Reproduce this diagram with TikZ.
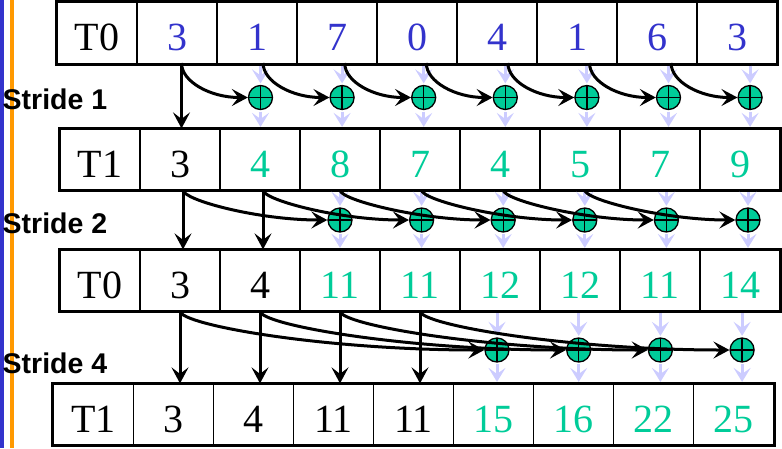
\documentclass[tikz,border=0pt]{standalone}
\usepackage{fontspec}
\setmainfont{Liberation Serif}
\newfontfamily\stridefont{Liberation Sans}
\usetikzlibrary{fit,calc,positioning,arrows.meta}
\definecolor{numblue}{HTML}{3333CC}
\definecolor{numgreen}{HTML}{00CC99}
\definecolor{lav}{HTML}{CCCCFF}
\definecolor{barorange}{HTML}{FF9900}
\tikzset{
cell/.style={draw, line width=1.2pt, minimum width=80pt, minimum height=61pt, inner sep=0pt,
  text height=35pt, text depth=0pt, font=\fontsize{40}{40}\selectfont}, % one array element
rowframe/.style={draw, line width=3pt, inner sep=0pt},
oldval/.style={text=numblue},
newval/.style={text=numgreen},
addop/.style={circle, draw, line width=1.3pt, fill=numgreen, minimum size=24pt, inner sep=0pt,
  path picture={\draw[line width=1.3pt] (path picture bounding box.north) -- (path picture bounding box.south)
    (path picture bounding box.west) -- (path picture bounding box.east);}},
stridelbl/.style={anchor=west, inner sep=0pt, font=\stridefont\bfseries\fontsize{28.5}{28.5}\selectfont},
sumarrow/.style={line width=3pt, -{Stealth[length=16pt,width=17pt,inset=6.5pt]}},
lavarrow/.style={color=lav, line width=3pt, shorten <=1.5pt, shorten >=1.5pt,
  -{Stealth[length=14pt,width=17pt,inset=6pt]}},
}
\begin{document}
\begin{tikzpicture}[x=1pt,y=1pt,node distance=80pt,on grid]
\useasboundingbox (0,0) rectangle (782,-448);
\fill[numblue] (0,0) rectangle (3.5,-448);
\fill[barorange] (9.5,0) rectangle (14,-448);
% input T0
\node[cell] (a0) at (97,-33) {T0};
\node[cell,oldval] (a1) [right=of a0] {3};
\node[cell,oldval] (a2) [right=of a1] {1};
\node[cell,oldval] (a3) [right=of a2] {7};
\node[cell,oldval] (a4) [right=of a3] {0};
\node[cell,oldval] (a5) [right=of a4] {4};
\node[cell,oldval] (a6) [right=of a5] {1};
\node[cell,oldval] (a7) [right=of a6] {6};
\node[cell,oldval] (a8) [right=of a7] {3};
% T1 after stride 1
\node[cell] (b0) at (100,-159.5) {T1};
\node[cell] (b1) [right=of b0] {3};
\node[cell,newval] (b2) [right=of b1] {4};
\node[cell,newval] (b3) [right=of b2] {8};
\node[cell,newval] (b4) [right=of b3] {7};
\node[cell,newval] (b5) [right=of b4] {4};
\node[cell,newval] (b6) [right=of b5] {5};
\node[cell,newval] (b7) [right=of b6] {7};
\node[cell,newval] (b8) [right=of b7] {9};
% T0 after stride 2
\node[cell] (c0) at (100,-280.5) {T0};
\node[cell] (c1) [right=of c0] {3};
\node[cell] (c2) [right=of c1] {4};
\node[cell,newval] (c3) [right=of c2] {11};
\node[cell,newval] (c4) [right=of c3] {11};
\node[cell,newval] (c5) [right=of c4] {12};
\node[cell,newval] (c6) [right=of c5] {12};
\node[cell,newval] (c7) [right=of c6] {11};
\node[cell,newval] (c8) [right=of c7] {14};
% T1 after stride 4
\node[cell] (d0) at (93.5,-414.5) {T1};
\node[cell] (d1) [right=of d0] {3};
\node[cell] (d2) [right=of d1] {4};
\node[cell] (d3) [right=of d2] {11};
\node[cell] (d4) [right=of d3] {11};
\node[cell,newval] (d5) [right=of d4] {15};
\node[cell,newval] (d6) [right=of d5] {16};
\node[cell,newval] (d7) [right=of d6] {22};
\node[cell,newval] (d8) [right=of d7] {25};
\node[rowframe, fit=(a0)(a8)] (fa) {};
\node[rowframe, fit=(b0)(b8)] (fb) {};
\node[rowframe, fit=(c0)(c8)] (fc) {};
\node[rowframe, fit=(d0)(d8)] (fd) {};
% labels
\node[stridelbl] (l1) at (2.5,-99) {Stride 1};
\node[stridelbl] (l2) at (2.5,-223.5) {Stride 2};
\node[stridelbl] (l4) at (2.5,-363) {Stride 4};
% adders
\node[addop] (s1_2) at (260.5,-97.5) {};
\foreach \i [evaluate=\i as \k using int(\i-1)] in {3,...,8}
  \node[addop] (s1_\i) [right=81.6pt of s1_\k] {};
\node[addop] (s2_3) at (340,-220) {};
\foreach \i [evaluate=\i as \k using int(\i-1)] in {4,...,8}
  \node[addop] (s2_\i) [right=81.6pt of s2_\k] {};
\node[addop] (s4_5) at (497,-350) {};
\foreach \i [evaluate=\i as \k using int(\i-1)] in {6,7,8}
  \node[addop] (s4_\i) [right=81.7pt of s4_\k] {};
% start points of the carries
\foreach \j in {1,...,7}
  \coordinate (u\j) at ({181.5+81.6*(\j-1)},-63);
\coordinate (v1) at (183,-190);
\coordinate (v2) at (263,-190);
\foreach \j in {3,...,6}
  \coordinate (v\j) at ({340+81.6*(\j-3)},-190);
\foreach \j in {1,...,4}
  \coordinate (w\j) at ({180+80*(\j-1)},-311);
% stride 1
\foreach \k in {2,...,8}
  \path[lavarrow] (s1_\k |- a1.south) edge (s1_\k) (s1_\k) edge (s1_\k |- b1.north);
\path[sumarrow] (u1) edge (u1 |- b1.north);
\foreach \j [evaluate=\j as \k using int(\j+1)] in {1,...,7}
  \path[sumarrow] (u\j) edge[out=-90,in=180,out distance=19pt,in distance=37pt] (s1_\k);
% stride 2
\foreach \k in {3,...,8}
  \path[lavarrow] (s2_\k |- b1.south) edge (s2_\k) (s2_\k) edge (s2_\k |- c1.north);
\path[sumarrow] (v1) edge (v1 |- c1.north)
  (v2) edge (v2 |- c2.north);
\foreach \j [evaluate=\j as \k using int(\j+2)] in {1,...,6}
  \path[sumarrow] (v\j) edge[out=-90,in=180,out distance=10pt,in distance=70pt] (s2_\k);
% stride 4
\foreach \k in {5,...,8}
  \path[lavarrow] (s4_\k |- c1.south) edge (s4_\k) (s4_\k) edge (s4_\k |- d1.north);
\foreach \j [evaluate=\j as \k using int(\j+4)] in {1,...,4}
  \path[sumarrow] (w\j) edge (w\j |- d1.north)
    (w\j) edge[out=-90,in=180,out distance=14pt,in distance=160pt] (s4_\k);
\end{tikzpicture}
\end{document}
